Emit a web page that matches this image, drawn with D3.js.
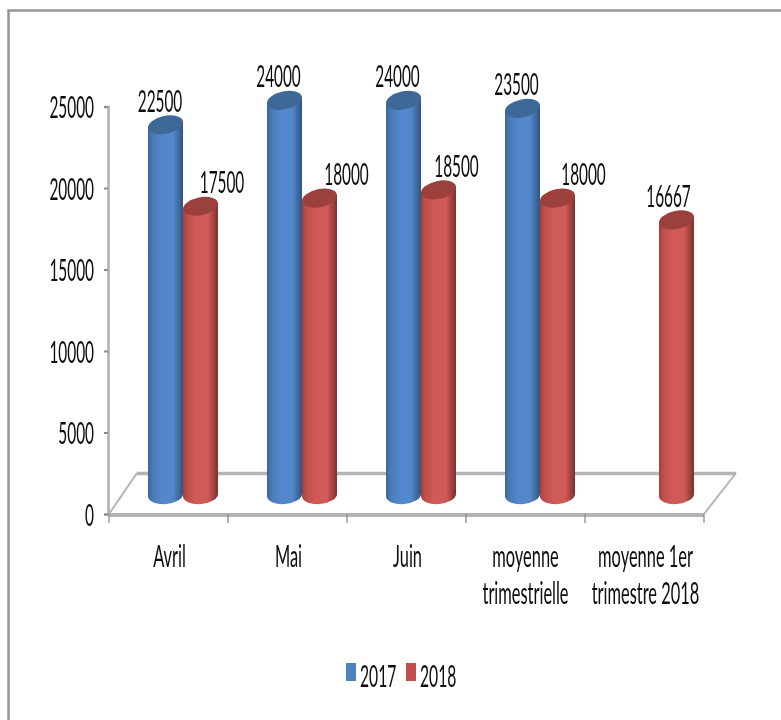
<!DOCTYPE html>
<html><head><meta charset="utf-8">
<script src="https://cdn.jsdelivr.net/npm/d3@7"></script>
<style>html,body{margin:0;padding:0;background:#fff}svg{display:block}text{font-family:Lato,"Open Sans",sans-serif;fill:#0a0a0a}</style>
</head><body><div id="c"></div>
<script>
const categories=[["Avril"],["Mai"],["Juin"],["moyenne","trimestrielle"],["moyenne 1er","trimestre 2018"]];
const categoryKeys=["Avril","Mai","Juin","moyenne trimestrielle","moyenne 1er trimestre 2018"];
const series2017=[22500,24000,24000,23500,null];
const series2018=[17500,18000,18500,18000,16667];
const yTicks=[0,5000,10000,15000,20000,25000];
const seriesNames=["2017","2018"];
const seriesColors=["#4f81bd","#c0504d"];

const W=781,H=720;
const labelNudge=[[-5.5,-6,-6,-6,0],[21.5,27,18,26,-8]];
const svg=d3.select("#c").append("svg").attr("width",W).attr("height",H);
const defs=svg.append("defs");
defs.append("filter").attr("id","soft").append("feGaussianBlur").attr("stdDeviation",0.5);
function grad(id,edgeL,mid,edgeR){
  const g=defs.append("linearGradient").attr("id",id);
  [[0,edgeL],[0.12,d3.interpolateRgb(edgeL,mid)(0.6)],[0.38,mid],[0.72,mid],[1,edgeR]].forEach(s=>g.append("stop").attr("offset",s[0]).attr("stop-color",s[1]));
}
grad("g0","#3a6594","#5287cb","#2f5580");
grad("g1","#a03f3c","#d05a56","#7c2f2d");

const root=svg.append("g").attr("filter","url(#soft)");
root.append("path").attr("d",`M8.5,${H}V10.5H${W}`).attr("fill","none").attr("stroke","#969696").attr("stroke-width",2.5);

const x0=d3.scaleBand().domain(categoryKeys).range([109,704]);
const y=d3.scaleLinear().domain([0,25000]).range([514,106.5]);
const depthX=28,depthY=41,topLift=22.5,baseLift=19;
const barW=35,barDx=[-3,32];
const barCx=(i,s)=>x0(categoryKeys[i])+x0.bandwidth()/2+barDx[s];

// floor
const gFloor=root.append("g");
const L=x0.range()[0],R=x0.range()[1];
gFloor.append("path").attr("d",`M${L},${y(0)}L${L+depthX},${y(0)-depthY}M${R},${y(0)}L${R+32},${y(0)-depthY}`)
 .attr("fill","none").attr("stroke","#b4b4b4").attr("stroke-width",2);
gFloor.append("line").attr("x1",L+depthX).attr("x2",R+32).attr("y1",y(0)-depthY+0.5).attr("y2",y(0)-depthY+0.5).attr("stroke","#b4b4b4").attr("stroke-width",3.5);
gFloor.append("line").attr("x1",L).attr("x2",R).attr("y1",y(0)+1).attr("y2",y(0)+1).attr("stroke","#b4b4b4").attr("stroke-width",4);

// y axis
const ax=root.append("g").attr("transform","translate(108,0)").call(d3.axisLeft(y).tickValues(yTicks).tickSize(4).tickFormat(""));
ax.select(".domain").attr("stroke","#b0b0b0").attr("stroke-width",2.5);
ax.selectAll(".tick line").attr("stroke","#8c8c8c").attr("stroke-width",2);
const fs=31;
function label(g,x,yy,t,anchor,sx){
  return g.append("text").attr("transform",`translate(${x},${yy}) scale(${sx||0.496},1)`).attr("text-anchor",anchor||"middle").attr("font-size",fs).text(t);
}
const labelsG=root.append("g");
yTicks.forEach(v=>label(labelsG,94,y(v)+11.5,d3.format("d")(v),"end"));

// x ticks
[...categoryKeys.map(c=>x0(c)),R].forEach(t=>root.append("line").attr("x1",t).attr("x2",t).attr("y1",y(0)).attr("y2",y(0)+9).attr("stroke","#8c8c8c").attr("stroke-width",1.3));

// cylinders
const rx=barW/2,ry=9;
[series2017,series2018].forEach((vals,s)=>{
  const g=root.append("g");
  vals.forEach((v,i)=>{
    if(v==null)return;
    const cx=barCx(i,s),top=y(v)-topLift,bot=y(0)-baseLift;
    g.append("path").attr("d",`M${cx-rx},${top+3.5}L${cx-rx},${bot+1.5}A${rx},${ry} -5 0 0 ${cx+rx},${bot-1.5}L${cx+rx},${top-3.5}Z`).attr("fill",`url(#g${s})`);
    g.append("ellipse").attr("cx",cx).attr("cy",top).attr("rx",rx+0.3).attr("ry",ry)
      .attr("transform",`rotate(-12 ${cx} ${top})`)
      .attr("fill",s===0?"#3c6898":"#9c3f3d");
    label(labelsG,cx+labelNudge[s][i],y(v)-35.5,d3.format("d")(v));
  });
});

// x labels
categories.forEach((lines,i)=>{
  const cx=x0(categoryKeys[i])+x0.bandwidth()/2+(i===4?1:i===3?0:1);
  lines.forEach((t,j)=>label(labelsG,cx,567+j*37,t,"middle",0.53));
});

// legend
const legend=root.append("g");
const lx=[346,406];
seriesNames.forEach((n,i)=>{
  legend.append("rect").attr("x",lx[i]).attr("y",663).attr("width",10).attr("height",18).attr("fill",seriesColors[i]);
  label(legend,lx[i]+14,687,n,"start",0.505);
});
</script></body></html>
